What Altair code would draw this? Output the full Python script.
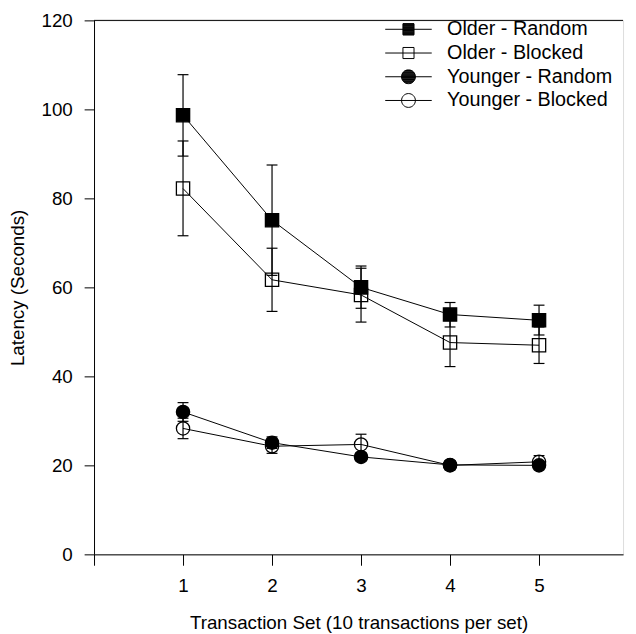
import math
import altair as alt
import pandas as pd

sets = [1, 2, 3, 4, 5]
series_names = ["Older - Random", "Older - Blocked", "Younger - Random", "Younger - Blocked"]

older_random = [98.7, 75.1, 60.0, 53.9, 52.6]
older_random_lo = [89.5, 62.7, 55.3, 51.1, 49.3]
older_random_hi = [107.8, 87.5, 64.8, 56.6, 56.0]

older_blocked = [82.2, 61.7, 58.3, 47.6, 47.0]
older_blocked_lo = [71.6, 54.6, 52.2, 42.2, 42.9]
older_blocked_hi = [92.9, 68.8, 64.3, 53.0, 51.1]

younger_random = [32.0, 25.1, 21.9, 20.1, 20.0]
younger_random_lo = [29.9, 23.8, 21.0, 19.4, 19.3]
younger_random_hi = [34.1, 26.4, 22.8, 20.8, 20.7]

younger_blocked = [28.3, 24.3, 24.7, 20.0, 20.8]
younger_blocked_lo = [26.0, 22.7, 22.4, 19.0, 19.4]
younger_blocked_hi = [30.6, 25.9, 27.0, 21.0, 22.2]

y_ticks = [0, 20, 40, 60, 80, 100, 120]
x_ticks = [0, 1, 2, 3, 4, 5]

rows = []
for name, m, lo, hi in [
    (series_names[0], older_random, older_random_lo, older_random_hi),
    (series_names[1], older_blocked, older_blocked_lo, older_blocked_hi),
    (series_names[2], younger_random, younger_random_lo, younger_random_hi),
    (series_names[3], younger_blocked, younger_blocked_lo, younger_blocked_hi),
]:
    for s, a, b, c in zip(sets, m, lo, hi):
        rows.append({"set": s, "series": name, "mean": a, "lo": b, "hi": c})
df = pd.DataFrame(rows)

FONT = "Liberation Sans"
W, H = 535, 540

xscale = alt.Scale(domain=[0, 5.944], nice=False, zero=False)
yscale = alt.Scale(domain=[0, 120], nice=False)

xaxis = alt.Axis(values=x_ticks, format="d", tickSize=11,
                 labelExpr="datum.value == 0 ? '' : datum.label",
                 labelPadding=12, titlePadding=18, grid=False, labelFontSize=19, titleFontSize=19,
                 titleFontWeight="normal", domainColor="black", tickColor="black",
                 labelColor="black", titleColor="black", labelFont=FONT, titleFont=FONT)
yaxis = alt.Axis(values=y_ticks, format="d", tickSize=10, labelPadding=12, titlePadding=14, grid=False,
                 labelFontSize=19, titleFontSize=19, titleFontWeight="normal",
                 domainColor="black", tickColor="black", labelColor="black", titleColor="black",
                 labelFont=FONT, titleFont=FONT)

base = alt.Chart(df)

X_TITLE = "Transaction Set (10 transactions per set)"
Y_TITLE = "Latency (Seconds)"

lines = base.mark_line(color="black", strokeWidth=1).encode(
    x=alt.X("set:Q", scale=xscale, axis=xaxis, title=X_TITLE),
    y=alt.Y("mean:Q", scale=yscale, axis=yaxis, title=Y_TITLE),
    detail="series:N",
)

top_line = alt.Chart(pd.DataFrame({"v": [120]})).mark_rule(color="black", strokeWidth=1).encode(
    y=alt.Y("v:Q", scale=yscale, axis=yaxis, title=Y_TITLE), x=alt.value(0), x2=alt.value(W)
)

err = base.mark_rule(color="black", strokeWidth=1.2).encode(
    x=alt.X("set:Q", scale=xscale, axis=xaxis, title=X_TITLE),
    y=alt.Y("lo:Q", scale=yscale, axis=yaxis, title=Y_TITLE), y2="hi:Q"
)
cap_lo = base.mark_tick(orient="horizontal", size=11, thickness=1.2, color="black", opacity=1).encode(
    x=alt.X("set:Q", scale=xscale, axis=xaxis, title=X_TITLE),
    y=alt.Y("lo:Q", scale=yscale, axis=yaxis, title=Y_TITLE)
)
cap_hi = base.mark_tick(orient="horizontal", size=11, thickness=1.2, color="black", opacity=1).encode(
    x=alt.X("set:Q", scale=xscale, axis=xaxis, title=X_TITLE),
    y=alt.Y("hi:Q", scale=yscale, axis=yaxis, title=Y_TITLE)
)

points = base.mark_point(stroke="black", strokeWidth=1.3, opacity=1, size=180).encode(
    x=alt.X("set:Q", scale=xscale, axis=xaxis, title=X_TITLE),
    y=alt.Y("mean:Q", scale=yscale, axis=yaxis, title=Y_TITLE),
    shape=alt.Shape("series:N", scale=alt.Scale(domain=series_names,
                    range=["square", "square", "circle", "circle"]), legend=None),
    fill=alt.Fill("series:N", scale=alt.Scale(domain=series_names,
                  range=["black", "transparent", "black", "transparent"]), legend=None),
)


# legend glyphs: a line through a marker; "filled" markers are drawn with dense strokes
def f(v):
    return f"{v:.3f}"


LINE = "M-3.36,0H3.36"


def square(h, filled):
    p = f"M{f(-h)},{f(-h)}H{f(h)}V{f(h)}H{f(-h)}Z"
    if filled:
        n = 18
        for i in range(n + 1):
            y = -h + 2 * h * i / n
            p += f"M{f(-h)},{f(y)}H{f(h)}"
    return p


def circle(r, filled):
    p = f"M{f(-r)},0A{f(r)},{f(r)},0,1,0,{f(r)},0A{f(r)},{f(r)},0,1,0,{f(-r)},0Z"
    if filled:
        n = 20
        for i in range(n + 1):
            y = -r + 2 * r * i / n
            w = math.sqrt(max(r * r - y * y, 0))
            p += f"M{f(-w)},{f(y)}H{f(w)}"
    return p


legend_paths = [LINE + square(0.8, True), LINE + square(0.8, False),
                LINE + circle(1.0, True), LINE + circle(1.0, False)]

legend = alt.Legend(title=None, orient="none", legendX=308, legendY=-1, symbolSize=196,
                    symbolStrokeWidth=1, symbolStrokeColor="black", symbolFillColor="transparent",
                    labelFontSize=20, labelFont=FONT, labelColor="black", labelOffset=29,
                    rowPadding=4, padding=0, symbolOpacity=1, labelLimit=400)

legend_layer = base.mark_point(stroke="black", strokeWidth=1, opacity=1, size=196, clip=True).encode(
    x=alt.X("set:Q", scale=xscale, axis=xaxis, title=X_TITLE),
    y=alt.Y("neg:Q", scale=yscale, axis=yaxis, title=Y_TITLE),
    shape=alt.Shape("series:N", scale=alt.Scale(domain=series_names, range=legend_paths), legend=legend),
).transform_calculate(neg="-50")

chart = alt.layer(lines, top_line, err, cap_lo, cap_hi, points, legend_layer).resolve_scale(
    shape="independent"
).properties(
    width=W, height=H,
    autosize=alt.AutoSizeParams(type="none"),
    padding={"left": 87, "top": 9, "right": 5, "bottom": 76},
).configure_view(stroke=None).configure(font=FONT)

chart.save("out.html", embed_options={"renderer": "svg", "actions": False})
